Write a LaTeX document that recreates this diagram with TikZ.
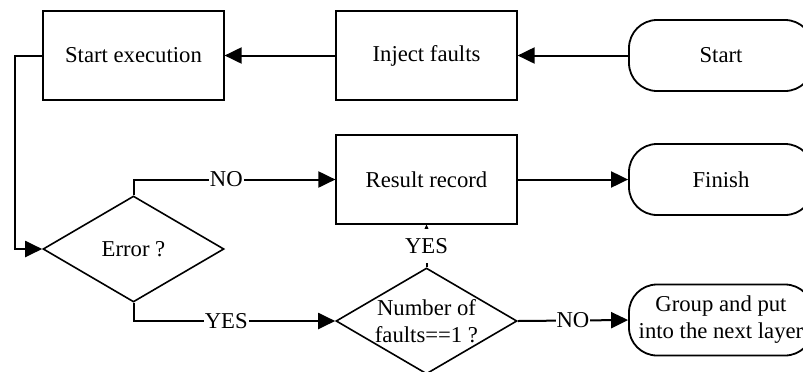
\documentclass[tikz,border=0pt]{standalone}
\usepackage{fontspec}
\setmainfont{Liberation Serif}
\usetikzlibrary{positioning,shapes.geometric,arrows.meta}
\tikzset{
  procbox/.style={draw, line width=0.6pt, minimum width=90.5pt, minimum height=44.5pt, inner sep=0pt},
  termbox/.style={draw, line width=0.9pt, rounded corners=14pt, minimum width=92pt, minimum height=35.5pt, inner sep=0pt, align=center},
  decide/.style={draw, diamond, line width=0.8pt, minimum width=90.5pt, minimum height=53pt, aspect=1.7, inner sep=0pt, align=center},
  flow/.style={line width=1pt, -{Triangle[length=8.5pt,width=8pt]}},
  lbl/.style={fill=white, inner xsep=0.5pt, inner ysep=4.5pt}
}

\begin{document}
\begin{tikzpicture}[font=\fontsize{11.35}{13.5}\selectfont]
  \useasboundingbox (-66.75pt,-157.75pt) rectangle (334.75pt,27.75pt);
  \node [procbox] (Exec) {Start execution};
  \node [procbox, on grid, right=146.5pt of Exec] (Inject) {Inject faults};
  \node [termbox, on grid, right=147.25pt of Inject] (Start) {Start};
  \node [procbox, on grid, below=62pt of Inject] (Record) {Result record};
  \node [termbox, on grid, right=147.25pt of Record] (Finish) {Finish};
  \node [decide, on grid, below=96.75pt of Exec] (Error) {Error ?};
  \node [decide, on grid, below=70.75pt of Record] (Count) {Number of\\faults==1 ?};
  \node [termbox, on grid, below right=70.25pt and 147.25pt of Record] (Group) {Group and put\\into the next layer};
  \draw [flow] (Start.west) -- (Inject.east);
  \draw [flow] (Inject.west) -- (Exec.east);
  \draw [flow] (Exec.west) -- ++(-13.5pt,0) |- (Error.west);
  \draw [flow] (Error.north) |- node[lbl, pos=0.73] {NO} (Record.west);
  \draw [flow] (Error.south) |- node[lbl, pos=0.73] {YES} (Count.west);
  \draw [flow] (Count.north) -- node[lbl] {YES} (Record.south);
  \draw [flow] (Count.east) -- node[lbl] {NO} (Group.west);
  \draw [flow] (Record.east) -- (Finish.west);
\end{tikzpicture}
\end{document}
